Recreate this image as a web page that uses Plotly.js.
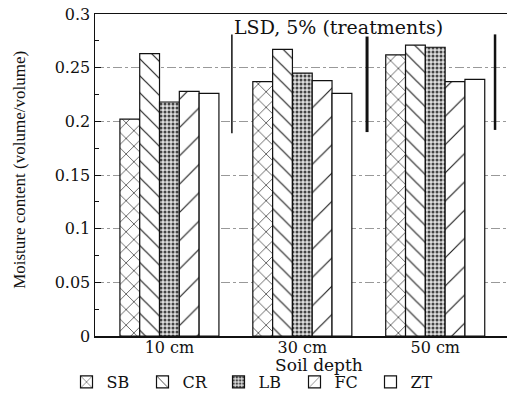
<!DOCTYPE html>
<html>
<head>
<meta charset="utf-8">
<script src="https://cdn.plot.ly/plotly-3.0.1.min.js"></script>
<style>html,body{margin:0;padding:0;background:#fff;}#chart{width:507px;height:397px;}</style>
</head>
<body>
<div id="chart"></div>
<script>
// Data
const depths = ["10 cm", "30 cm", "50 cm"];
const treatments = ["SB", "CR", "LB", "FC", "ZT"];
const SB = [0.202, 0.237, 0.262];
const CR = [0.263, 0.267, 0.271];
const LB = [0.218, 0.245, 0.269];
const FC = [0.228, 0.238, 0.237];
const ZT = [0.226, 0.226, 0.239];
// LSD 5% (treatments) bars: lower and upper ends
const lsdLow = [0.189, 0.190, 0.192];
const lsdHigh = [0.281, 0.279, 0.281];
const yTicks = [0, 0.05, 0.1, 0.15, 0.2, 0.25, 0.3];
const yTickText = ["0", "0.05", "0.1", "0.15", "0.2", "0.25", "0.3"];

// styling / placement (not data)
const lsdOffset = [0.47, 0.487, 0.45];
const lsdWidths = [1.5, 3, 2.5];

const series = [SB, CR, LB, FC, ZT];
const patterns = [
  {shape: "x", size: 11, solidity: 0.12, fgcolor: "#222", bgcolor: "#fff"},
  {shape: "\\", size: 12, solidity: 0.1, fgcolor: "#222", bgcolor: "#fff"},
  {shape: ".", size: 4, solidity: 0.45, fgcolor: "#444", bgcolor: "#ddd"},
  {shape: "/", size: 20, solidity: 0.06, fgcolor: "#222", bgcolor: "#fff"},
  {shape: "", size: 8, solidity: 0.1, fgcolor: "#222", bgcolor: "#fff"}
];
const xIdx = depths.map((d, i) => i);
const serif = "DejaVu Serif, serif";

const traces = series.map((vals, k) => ({
  type: "bar",
  name: treatments[k],
  x: xIdx,
  y: vals,
  marker: {color: "#fff", pattern: patterns[k], line: {color: "#111", width: 1.2}},
  hoverinfo: "y+name"
}));

const shapes = lsdLow.map((lo, i) => ({
  type: "line", xref: "x", yref: "y",
  x0: i + lsdOffset[i], x1: i + lsdOffset[i],
  y0: lo, y1: lsdHigh[i],
  line: {color: "#111", width: lsdWidths[i]}
}));

const layout = {
  width: 507, height: 397,
  margin: {l: 95, r: 0, t: 14, b: 61, autoexpand: false},
  paper_bgcolor: "#fff", plot_bgcolor: "#fff",
  barmode: "group", bargap: 0.255, bargroupgap: 0,
  font: {family: serif, color: "#111", size: 16},
  showlegend: true,
  legend: {
    orientation: "h", x: 0.392, xanchor: "center", y: -0.143, yanchor: "middle",
    font: {family: serif, size: 16, color: "#111"}, itemwidth: 30, traceorder: "normal",
    entrywidth: 31, entrywidthmode: "pixels"
  },
  xaxis: {
    range: [-0.56, 2.54], tickvals: xIdx, ticktext: depths,
    showline: true, linecolor: "#111", linewidth: 1.5, mirror: true,
    ticks: "", showgrid: false, zeroline: false, ticklabelstandoff: -4,
    tickfont: {family: serif, size: 16, color: "#111"}
  },
  yaxis: {
    range: [0, 0.3], tickvals: yTicks, ticktext: yTickText,
    showline: true, linecolor: "#111", linewidth: 1.5, mirror: false,
    ticks: "inside", ticklen: 6, tickcolor: "#111",
    minor: {dtick: 0.025, ticks: "inside", ticklen: 4, tickcolor: "#111", showgrid: false},
    showgrid: true, gridcolor: "#999", griddash: "dashdot", gridwidth: 1,
    zeroline: false,
    tickfont: {family: serif, size: 16, color: "#111"}
  },
  shapes: shapes,
  annotations: [
    {text: "LSD, 5% (treatments)", xref: "paper", yref: "paper", x: 0.59, y: 0.96,
     xanchor: "center", yanchor: "middle", showarrow: false,
     font: {family: serif, size: 19, color: "#111"}},
    {text: "Soil depth", xref: "paper", yref: "paper", x: 0.544, y: -0.089,
     xanchor: "center", yanchor: "middle", showarrow: false,
     font: {family: serif, size: 17, color: "#111"}},
    {text: "Moisture content (volume/volume)", xref: "paper", yref: "paper", x: -0.182, y: 0.516,
     xanchor: "center", yanchor: "middle", textangle: -90, showarrow: false,
     font: {family: "Liberation Serif, serif", size: 17, color: "#111"}}
  ]
};

Plotly.newPlot("chart", traces, layout, {staticPlot: true, displayModeBar: false});
</script>
</body>
</html>
